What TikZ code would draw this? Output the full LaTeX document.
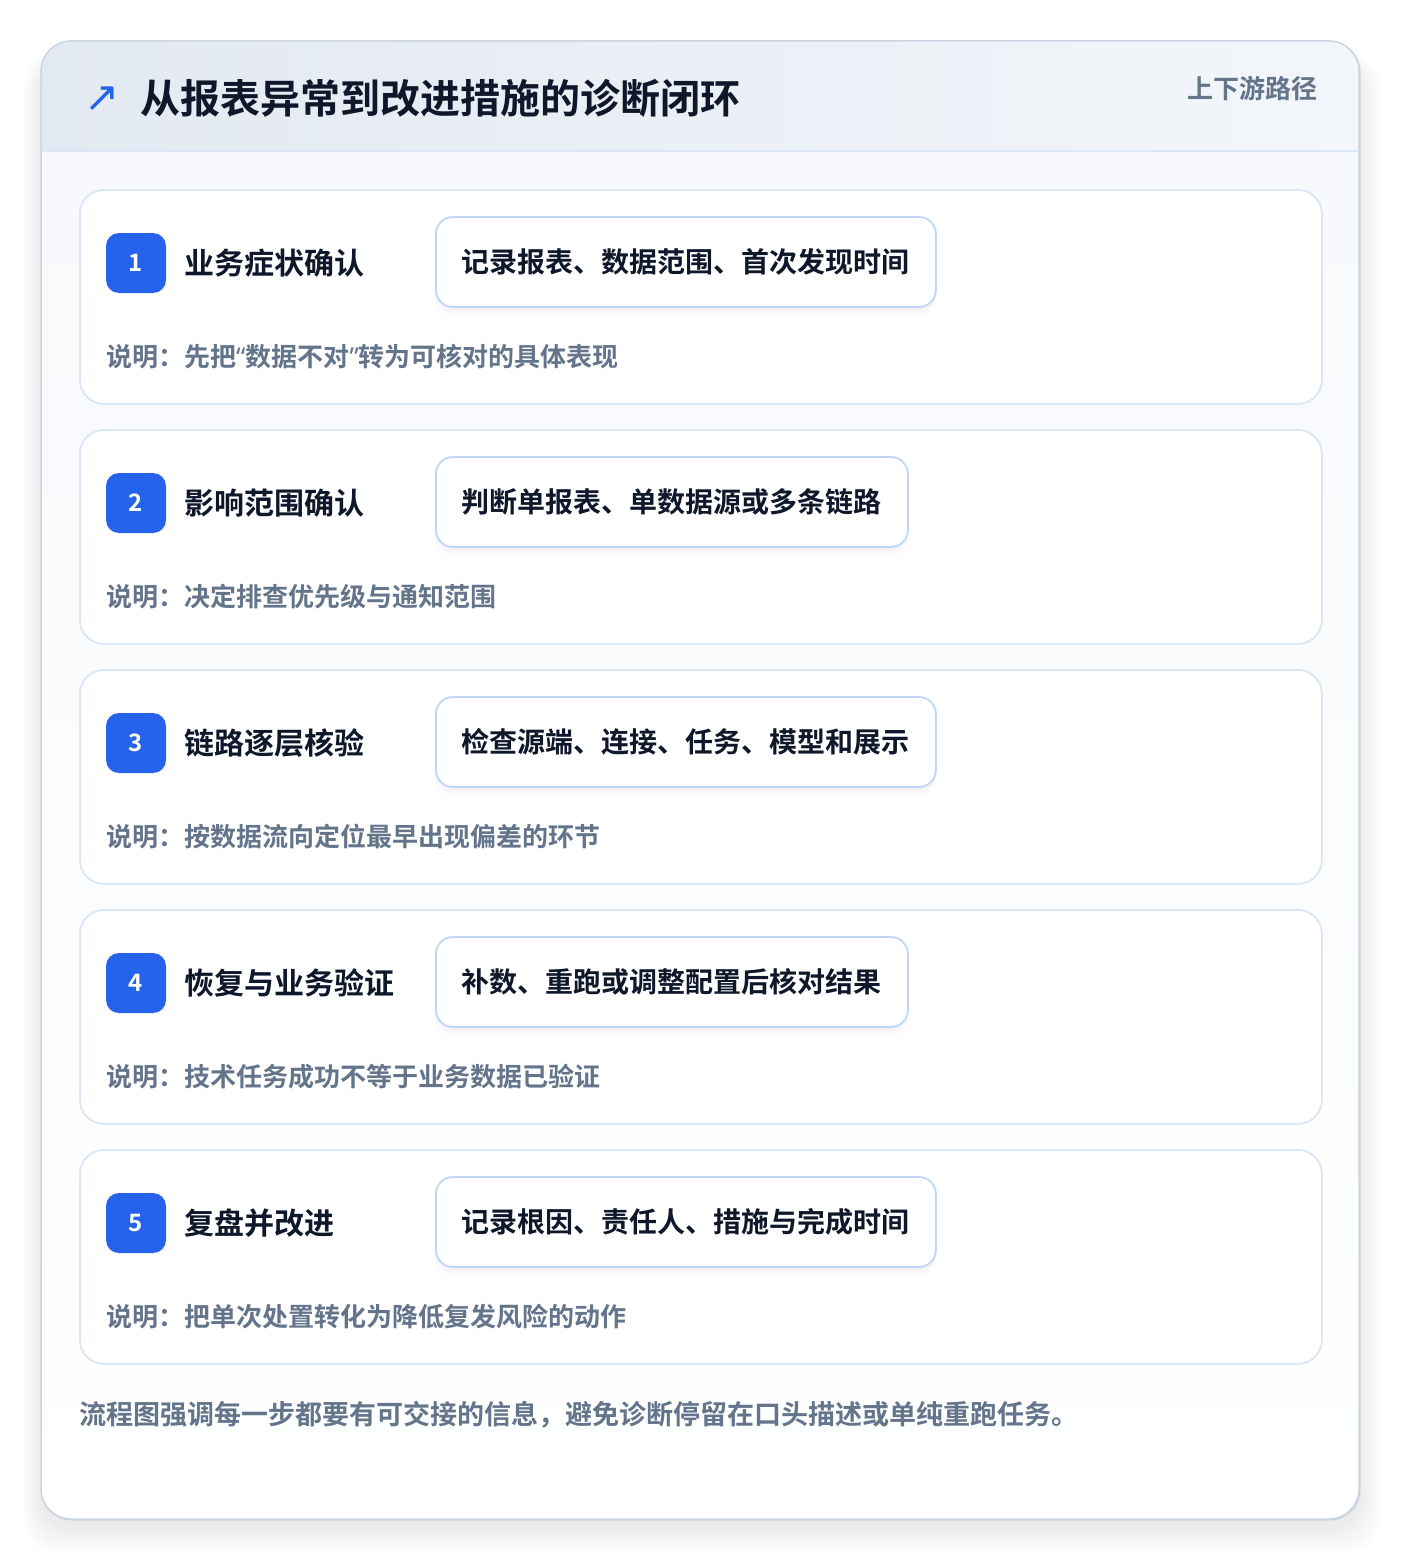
\documentclass[tikz,border=0pt]{standalone}
\usepackage{fontspec}
\setmainfont{Noto Sans CJK SC}[BoldFont={Noto Sans CJK SC Bold}]
\newfontfamily\symfont{DejaVu Sans}
\newfontfamily\quotefont{Noto Sans}
\newcommand{\myLq}{{\quotefont\bfseries “}}
\newcommand{\myRq}{{\quotefont\bfseries ”}}
\definecolor{ink}{HTML}{0F172A}
\definecolor{muted}{HTML}{64748B}
\definecolor{accent}{HTML}{2563EB}
\definecolor{cardline}{HTML}{CBD5E1}
\definecolor{stepline}{HTML}{DBE7F7}
\definecolor{pillline}{HTML}{BFD7F5}
\definecolor{headL}{HTML}{E3E9F2}
\definecolor{headR}{HTML}{F3F6FA}
\definecolor{bodytop}{HTML}{F7F9FC}
\tikzset{
  outercard/.style={draw=cardline, line width=1.5pt, fill=white, rounded corners=30pt, anchor=north west, minimum width=1318pt, minimum height=1478pt, inner sep=0pt},
  stepcard/.style={draw=stepline, line width=1.8pt, fill=white, rounded corners=24pt, anchor=north west, minimum width=1242pt, minimum height=214pt, inner sep=0pt},
  badge/.style={fill=accent, rounded corners=13pt, minimum width=60pt, minimum height=60pt, inner sep=0pt, text=white, font=\bfseries\fontsize{24}{28}\selectfont},
  steplabel/.style={anchor=west, inner sep=0pt, text=ink, font=\bfseries\fontsize{30}{36}\selectfont},
  pill/.style={anchor=west, draw=pillline, line width=1.8pt, fill=white, rounded corners=17pt, minimum height=90pt, inner xsep=26pt, inner ysep=0pt, text=ink, font=\bfseries\fontsize{28}{34}\selectfont,
    preaction={fill=black, fill opacity=0.018, draw=none, transform canvas={yshift=-3pt}},
    preaction={fill=black, fill opacity=0.014, draw=none, transform canvas={yshift=-6pt}},
    preaction={fill=black, fill opacity=0.010, draw=none, transform canvas={yshift=-10pt}}},
  note/.style={anchor=west, inner sep=0pt, text=muted, font=\bfseries\fontsize{26}{30}\selectfont},
  footnote/.style={anchor=west, inner sep=0pt, text=muted, font=\bfseries\fontsize{27}{32}\selectfont},
  titletext/.style={anchor=west, inner sep=0pt, text=ink, font=\bfseries\fontsize{40}{48}\selectfont},
  tagtext/.style={anchor=east, inner sep=0pt, text=muted, font=\bfseries\fontsize{26}{30}\selectfont},
  icon/.style={inner sep=0pt, text=accent, font=\symfont\fontsize{42}{46}\selectfont},
}
\begin{document}
\begin{tikzpicture}[x=1pt,y=-1pt]
\useasboundingbox (0,0) rectangle (1400,1560);
\fill[white] (0,0) rectangle (1400,1560);
% soft shadow of the outer card
\foreach \i in {1,...,20}{
  \fill[black, opacity=0.0025, rounded corners=34pt] (41-\i*0.9, 41+20-\i*0.4) rectangle (1359+\i*1.1, 1519+6+\i*1.5);
}
\node[outercard] (card) at (41,41) {};
\begin{scope}
  \clip[rounded corners=30pt] (41,41) rectangle (1359,1519);
  \shade[top color=bodytop, bottom color=white] (41,151) rectangle (1359,1519);
  \shade[left color=headL, right color=headR] (41,41) rectangle (1359,151);
  \draw[stepline, line width=1.5pt] (41,151) -- (1359,151);
\end{scope}
\draw[cardline, line width=1.5pt, rounded corners=30pt] (41,41) rectangle (1359,1519);
% header
\node[icon] (icon) at (102,99) {↗};
\node[titletext] (title) at (140,98) {从报表异常到改进措施的诊断闭环};
\node[tagtext] (tag) at (1318,89) {上下游路径};
% steps
\foreach \n/\lab/\pil/\nt in {
  1/业务症状确认/记录报表、数据范围、首次发现时间/说明：先把\myLq 数据不对\myRq 转为可核对的具体表现,
  2/影响范围确认/判断单报表、单数据源或多条链路/说明：决定排查优先级与通知范围,
  3/链路逐层核验/检查源端、连接、任务、模型和展示/说明：按数据流向定位最早出现偏差的环节,
  4/恢复与业务验证/补数、重跑或调整配置后核对结果/说明：技术任务成功不等于业务数据已验证,
  5/复盘并改进/记录根因、责任人、措施与完成时间/说明：把单次处置转化为降低复发风险的动作}{
  \pgfmathsetmacro{\off}{240*(\n-1)}
  \node[stepcard] (card\n) at (79,189+\off) {};
  \node[badge] (badge\n) at (136,263+\off) {\n};
  \node[steplabel] (label\n) at (184,263+\off) {\lab};
  \node[pill] (pill\n) at (435,262+\off) {\pil};
  \node[note] (note\n) at (106,357+\off) {\nt};
}
\node[footnote] (footer) at (79,1415) {流程图强调每一步都要有可交接的信息，避免诊断停留在口头描述或单纯重跑任务。};
\end{tikzpicture}
\end{document}
